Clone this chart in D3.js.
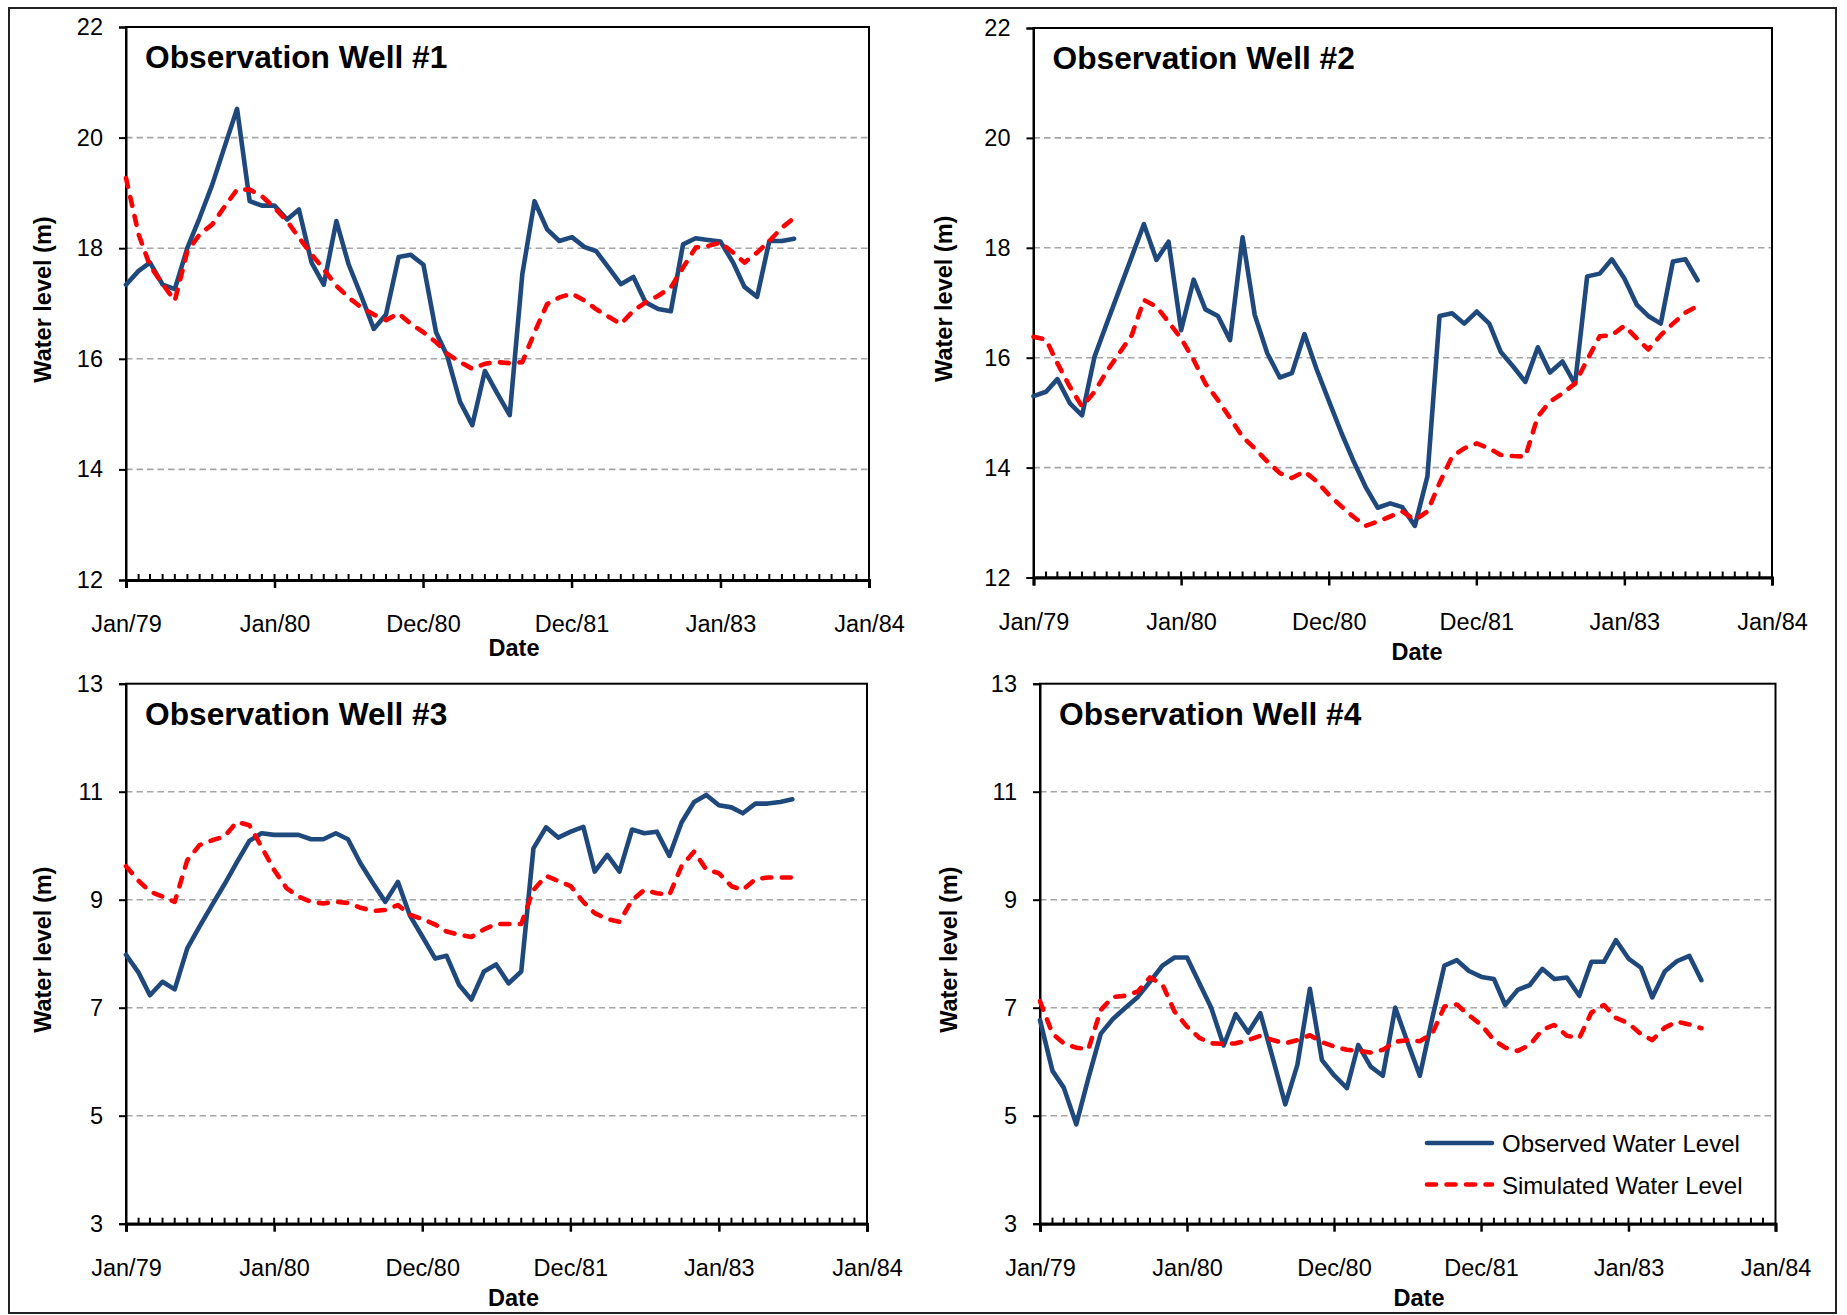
<!DOCTYPE html>
<html>
<head>
<meta charset="utf-8">
<script src="https://cdn.jsdelivr.net/npm/d3@7"></script>
<style>
  html, body { margin: 0; padding: 0; background: #fff; }
  svg { display: block; }
  text { font-family: "Liberation Sans", Arial, sans-serif; fill: #000; }
</style>
</head>
<body>
<svg id="chart" width="1847" height="1315"></svg>
<script>
// ---- Data: monthly water levels (m), Jan 1979 onwards ----
const obsWell1 = [17.34,17.59,17.74,17.34,17.26,18.01,18.55,19.15,19.85,20.52,18.85,18.77,18.77,18.52,18.70,17.74,17.34,18.49,17.71,17.14,16.54,16.80,17.84,17.88,17.70,16.48,16.04,15.22,14.80,15.78,15.38,14.98,17.53,18.85,18.34,18.13,18.20,18.02,17.95,17.65,17.35,17.48,17.02,16.90,16.86,18.07,18.18,18.15,18.12,17.74,17.30,17.12,18.13,18.13,18.17];
const simWell1 = [19.27,18.25,17.68,17.35,17.05,17.95,18.25,18.43,18.76,19.06,19.06,18.94,18.73,18.49,18.19,17.89,17.62,17.32,17.11,16.93,16.80,16.70,16.82,16.63,16.48,16.30,16.09,15.94,15.82,15.91,15.94,15.92,15.94,16.48,16.99,17.11,17.18,17.05,16.90,16.76,16.63,16.87,17.02,17.14,17.29,17.65,18.01,18.04,18.10,17.92,17.74,17.92,18.13,18.37,18.55];

const obsWell2 = [15.30,15.38,15.61,15.17,14.95,16.02,16.62,17.23,17.84,18.43,17.78,18.11,16.50,17.42,16.88,16.76,16.32,18.19,16.78,16.08,15.64,15.72,16.43,15.79,15.20,14.62,14.14,13.65,13.27,13.35,13.28,12.94,13.84,16.76,16.81,16.62,16.84,16.62,16.11,15.84,15.56,16.19,15.73,15.93,15.52,17.48,17.53,17.79,17.44,16.96,16.76,16.62,17.75,17.79,17.41];
const simWell2 = [16.38,16.33,15.90,15.47,15.11,15.38,15.75,16.08,16.41,17.05,16.93,16.65,16.35,15.96,15.53,15.23,14.90,14.56,14.35,14.11,13.90,13.81,13.93,13.75,13.50,13.29,13.11,12.94,13.02,13.11,13.20,13.05,13.20,13.72,14.20,14.35,14.44,14.35,14.23,14.21,14.20,14.93,15.20,15.35,15.53,15.96,16.39,16.41,16.58,16.35,16.15,16.41,16.62,16.82,16.94];

const obsWell3 = [7.98,7.65,7.23,7.48,7.34,8.10,8.50,8.90,9.29,9.69,10.09,10.23,10.20,10.20,10.20,10.12,10.12,10.23,10.12,9.67,9.30,8.96,9.33,8.70,8.31,7.91,7.96,7.42,7.15,7.67,7.80,7.45,7.67,9.95,10.34,10.15,10.26,10.35,9.52,9.83,9.52,10.30,10.23,10.26,9.81,10.43,10.81,10.94,10.75,10.71,10.60,10.78,10.78,10.81,10.86];
const simWell3 = [9.62,9.35,9.15,9.06,8.96,9.73,10.01,10.10,10.17,10.44,10.38,9.98,9.55,9.21,9.06,8.96,8.93,8.96,8.94,8.85,8.79,8.81,8.90,8.72,8.64,8.54,8.41,8.35,8.31,8.45,8.55,8.55,8.55,9.18,9.44,9.35,9.25,8.96,8.75,8.64,8.59,8.99,9.18,9.12,9.09,9.62,9.89,9.56,9.49,9.25,9.18,9.38,9.41,9.41,9.41];

const obsWell4 = [6.77,5.83,5.52,4.84,5.69,6.52,6.79,7.00,7.20,7.48,7.78,7.93,7.93,7.45,7.00,6.30,6.88,6.54,6.90,6.06,5.21,5.94,7.35,6.03,5.74,5.51,6.31,5.91,5.74,7.00,6.37,5.74,6.81,7.78,7.88,7.68,7.57,7.53,7.05,7.33,7.42,7.72,7.53,7.56,7.22,7.85,7.85,8.25,7.91,7.74,7.19,7.67,7.86,7.96,7.51];
const simWell4 = [7.12,6.52,6.34,6.26,6.23,6.96,7.20,7.22,7.30,7.56,7.43,6.93,6.65,6.44,6.34,6.33,6.34,6.40,6.48,6.40,6.34,6.40,6.49,6.36,6.28,6.22,6.20,6.17,6.22,6.37,6.40,6.38,6.52,7.02,7.06,6.86,6.68,6.40,6.26,6.20,6.31,6.59,6.68,6.48,6.44,6.91,7.05,6.81,6.71,6.51,6.40,6.63,6.74,6.69,6.62];

// x axis: date range and labelled major ticks
const dateStart = "1979-01-01";
const dateEnd = "1984-01-01";
const majorTickDates = ["1979-01-01","1980-01-01","1980-12-31","1981-12-31","1983-01-01","1984-01-01"];
const majorTickLabels = ["Jan/79","Jan/80","Dec/80","Dec/81","Jan/83","Jan/84"];

// y axis settings per row
const yTicksUpper = [12,14,16,18,20,22];
const yTicksLower = [3,5,7,9,11,13];

const panelTitles = ["Observation Well #1","Observation Well #2","Observation Well #3","Observation Well #4"];
const seriesNames = ["Observed Water Level","Simulated Water Level"];

// ---- Layout ----
const parse = d3.timeParse("%Y-%m-%d");
const t0 = parse(dateStart), t1 = parse(dateEnd);
const sampleDates = d3.timeMonth.range(t0, t1);

const panels = [
  {title: panelTitles[0], obs: obsWell1, sim: simWell1, yTicks: yTicksUpper,
   x0: 126, x1: 869, y0: 27, y1: 580, yTitleX: 43, dateX: 514, dateY: 656},
  {title: panelTitles[1], obs: obsWell2, sim: simWell2, yTicks: yTicksUpper,
   x0: 1033.5, x1: 1772, y0: 28, y1: 577.5, yTitleX: 944, dateX: 1417, dateY: 660},
  {title: panelTitles[2], obs: obsWell3, sim: simWell3, yTicks: yTicksLower,
   x0: 126, x1: 867, y0: 683.7, y1: 1223.7, yTitleX: 43, dateX: 513.5, dateY: 1306},
  {title: panelTitles[3], obs: obsWell4, sim: simWell4, yTicks: yTicksLower,
   x0: 1040, x1: 1775.5, y0: 683.7, y1: 1223.7, yTitleX: 949, dateX: 1419, dateY: 1306, legend: true}
];

const BLUE = "#1F497D";
const RED = "#FF0000";
const GRID = "#A6A6A6";

const svg = d3.select("#chart");

// outer frame of the figure
svg.append("rect")
  .attr("x", 9).attr("y", 8)
  .attr("width", 1827).attr("height", 1305)
  .attr("fill", "none").attr("stroke", "#222").attr("stroke-width", 2);

panels.forEach(p => {
  const g = svg.append("g");
  const x = d3.scaleTime().domain([t0, t1]).range([p.x0, p.x1]);
  const y = d3.scaleLinear().domain(d3.extent(p.yTicks)).range([p.y1, p.y0]);

  // horizontal dashed gridlines (interior ticks)
  g.selectAll("line.grid")
    .data(p.yTicks.slice(1, -1))
    .join("line")
    .attr("class", "grid")
    .attr("x1", p.x0).attr("x2", p.x1)
    .attr("y1", d => y(d)).attr("y2", d => y(d))
    .attr("stroke", GRID).attr("stroke-width", 1.6)
    .attr("stroke-dasharray", "6.5,4");

  // plot frame
  g.append("rect")
    .attr("x", p.x0).attr("y", p.y0)
    .attr("width", p.x1 - p.x0).attr("height", p.y1 - p.y0)
    .attr("fill", "none").attr("stroke", "#000").attr("stroke-width", 2);

  // y axis
  const yAxis = d3.axisLeft(y).tickValues(p.yTicks).tickSize(7).tickPadding(16).tickFormat(d3.format("d"));
  const ya = g.append("g").attr("transform", `translate(${p.x0},0)`).call(yAxis);
  ya.select(".domain").attr("stroke", "#000").attr("stroke-width", 2);
  ya.selectAll(".tick line").attr("stroke", "#000").attr("stroke-width", 2);
  ya.selectAll(".tick text")
    .attr("font-size", "23.5px").attr("fill", "#000")
    .attr("font-family", "'Liberation Sans', Arial, sans-serif");

  // x axis: monthly minor ticks inside, labelled major ticks outside
  const minor = d3.timeMonth.range(t0, t1).slice(1);
  g.selectAll("line.minor")
    .data(minor)
    .join("line")
    .attr("class", "minor")
    .attr("x1", d => x(d)).attr("x2", d => x(d))
    .attr("y1", p.y1).attr("y2", p.y1 - 6)
    .attr("stroke", "#000").attr("stroke-width", 2);

  const majors = majorTickDates.map(parse);
  const xAxis = d3.axisBottom(x).tickValues(majors).tickSize(8).tickPadding(30)
    .tickFormat((d, i) => majorTickLabels[i]);
  const xa = g.append("g").attr("transform", `translate(0,${p.y1})`).call(xAxis);
  xa.select(".domain").attr("stroke", "#000").attr("stroke-width", 3);
  xa.selectAll(".tick line").attr("stroke", "#000").attr("stroke-width", 2.5);
  xa.selectAll(".tick text")
    .attr("font-size", "23.5px").attr("fill", "#000").attr("dy", 0)
    .attr("y", 52)
    .attr("font-family", "'Liberation Sans', Arial, sans-serif");

  // axis titles
  g.append("text")
    .attr("x", p.dateX).attr("y", p.dateY)
    .attr("text-anchor", "middle")
    .attr("font-size", "23.5px").attr("font-weight", "bold")
    .text("Date");

  const yMid = (p.y0 + p.y1) / 2 - 4;
  g.append("text")
    .attr("transform", `translate(${p.yTitleX},${yMid}) rotate(-90)`)
    .attr("text-anchor", "middle")
    .attr("dy", "0.35em")
    .attr("font-size", "23.5px").attr("font-weight", "bold")
    .text("Water level (m)");

  // panel title
  g.append("text")
    .attr("x", p.x0 + 19).attr("y", p.y0 + 41)
    .attr("font-size", "31.7px").attr("font-weight", "bold")
    .text(p.title);

  // series
  const line = d3.line()
    .x((d, i) => x(sampleDates[i]))
    .y(d => y(d));

  g.append("path")
    .datum(p.obs)
    .attr("d", line)
    .attr("fill", "none").attr("stroke", BLUE)
    .attr("stroke-width", 4.6)
    .attr("stroke-linejoin", "round").attr("stroke-linecap", "round");

  g.append("path")
    .datum(p.sim)
    .attr("d", line)
    .attr("fill", "none").attr("stroke", RED)
    .attr("stroke-width", 4.6)
    .attr("stroke-dasharray", "9,10.5")
    .attr("stroke-linejoin", "round").attr("stroke-linecap", "round");

  if (p.legend) {
    const lg = g.append("g");
    const items = [
      {name: seriesNames[0], color: BLUE, dash: null, y: 1143},
      {name: seriesNames[1], color: RED, dash: "9,10.5", y: 1184.5}
    ];
    items.forEach(it => {
      lg.append("line")
        .attr("x1", 1427).attr("x2", 1492)
        .attr("y1", it.y).attr("y2", it.y)
        .attr("stroke", it.color).attr("stroke-width", 4.6)
        .attr("stroke-linecap", "round")
        .attr("stroke-dasharray", it.dash);
      lg.append("text")
        .attr("x", 1502).attr("y", it.y + 9)
        .attr("font-size", "24px")
        .text(it.name);
    });
  }
});
</script>
</body>
</html>
